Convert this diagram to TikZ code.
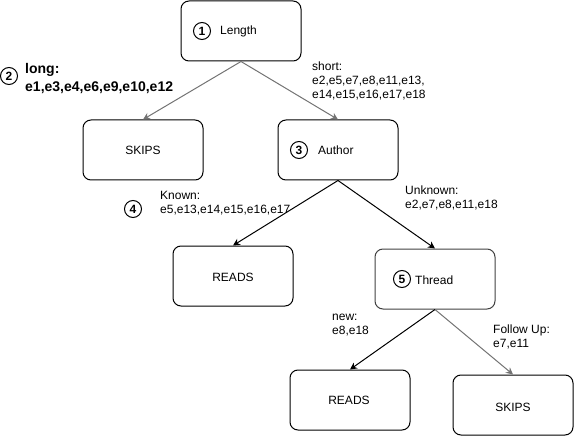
\documentclass[tikz,border=0pt]{standalone}
\usepackage{fontspec}
\setmainfont{Liberation Sans}
\usetikzlibrary{arrows.meta}
\begin{document}
\begin{tikzpicture}[x=1pt,y=-1pt,
  box/.style={draw=black,line width=1pt,rounded corners=8pt,minimum width=120pt,minimum height=60pt,inner sep=0pt},
  num/.style={draw=black,line width=1pt,circle,minimum size=17pt,inner sep=0pt,font=\fontsize{12}{12}\selectfont\bfseries},
  btxt/.style={inner sep=0pt,font=\fontsize{12}{12}\selectfont},
  lbl/.style={inner sep=0pt,anchor=north west,align=left,font=\fontsize{12}{14}\selectfont},
  edge/.style={line width=1pt,-{Stealth[length=7pt,width=7pt]}},
  gedge/.style={edge,draw=black!55}]
\useasboundingbox (0,0) rectangle (574,436);
% boxes
\node[box] (len) at (241,31) {};
\node[box] (skA) at (143,150) {};
\node[box] (aut) at (338,150) {};
\node[box] (rdA) at (233,276) {};
\node[box,draw=black!75] (thr) at (435,279) {};
\node[box] (rdB) at (350,400) {};
\node[box] (skB) at (513,405) {};
% box texts
\node[num] (n1) at (202,31) {1};
\node[btxt,anchor=west] (tLen) at (220,31) {Length};
\node[btxt] (tSkA) at (143,150) {SKIPS};
\node[num] (n3) at (299,150) {3};
\node[btxt,anchor=west] (tAut) at (318,150) {Author};
\node[btxt] (tRdA) at (233,277) {READS};
\node[num] (n5) at (402,279) {5};
\node[btxt,anchor=west] (tThr) at (415,280) {Thread};
\node[btxt] (tRdB) at (349,400) {READS};
\node[btxt] (tSkB) at (513,407) {SKIPS};
% edges
\draw[gedge] (len.south) -- (skA.north);
\draw[gedge] (len.south) -- (aut.north);
\draw[edge] (aut.south) -- (rdA.north);
\draw[edge] (aut.south) -- (thr.north);
\draw[edge] (thr.south) -- (rdB.north);
\draw[gedge] (thr.south) -- (skB.north);
% edge labels
\node[num] (n2) at (9,76) {2};
\node[lbl,font=\fontsize{14}{18}\selectfont\bfseries] (lLong) at (25,63) {long:\\e1,e3,e4,e6,e9,e10,e12};
\node[lbl] (lShort) at (312,62) {short:\\e2,e5,e7,e8,e11,e13,\\e14,e15,e16,e17,e18};
\node[num] (n4) at (133,209) {4};
\node[lbl] (lKnown) at (160,191) {Known:\\e5,e13,e14,e15,e16,e17};
\node[lbl] (lUnk) at (405,186) {Unknown:\\e2,e7,e8,e11,e18};
\node[lbl] (lNew) at (332,314) {new:\\e8,e18};
\node[lbl] (lFol) at (493,325) {Follow Up:\\e7,e11};
\end{tikzpicture}
\end{document}
